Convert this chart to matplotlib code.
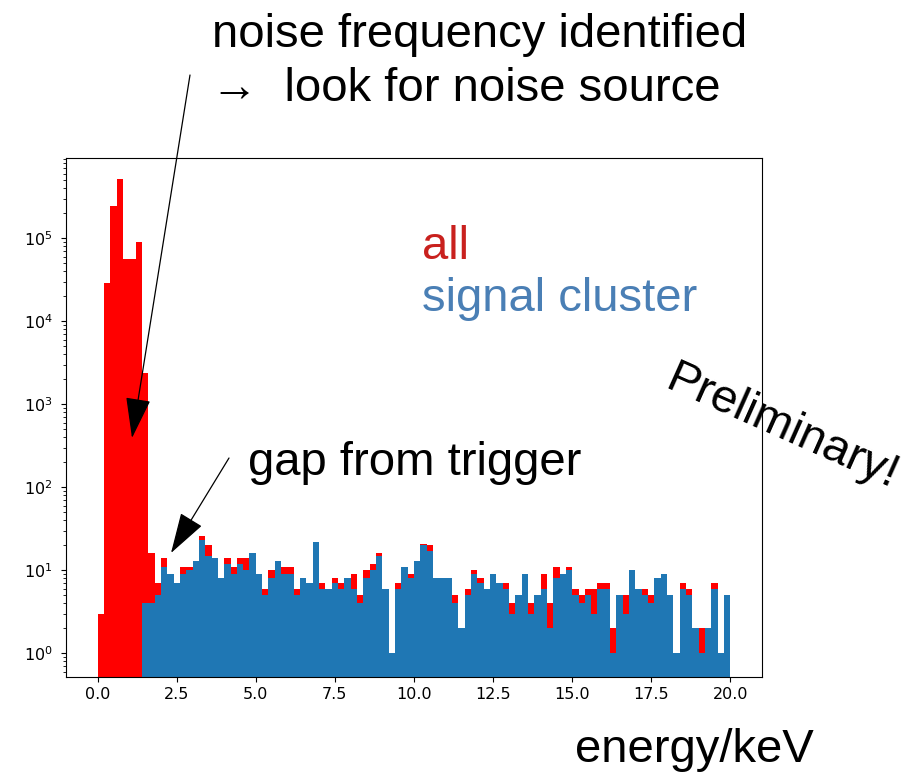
import numpy as np
import matplotlib
matplotlib.use('Agg')
import matplotlib.pyplot as plt

# counts per 0.2 keV bin (0 .. 20 keV)
all_counts = [3, 29000, 243000, 521000, 56000, 56000, 91000, 2400, 16, 7,
              14, 9, 7, 11, 11, 13, 26, 20, 14, 8,
              14, 11, 14, 14, 16, 9, 6, 10, 13, 11,
              11, 6, 8, 7, 22, 7, 6, 8, 7, 8,
              9, 5, 10, 12, 16, 6, 1, 7, 11, 9,
              13, 21, 20, 8, 8, 8, 5, 2, 6, 10,
              8, 6, 9, 7, 7, 4, 5, 9, 4, 5,
              9, 4, 11, 9, 11, 6, 5, 6, 6, 7,
              7, 2, 5, 5, 10, 6, 6, 5, 8, 9,
              5, 1, 7, 6, 2, 2, 2, 7, 1, 5]
signal_counts = [0, 0, 0, 0, 0, 0, 0, 4, 4, 5,
                 11, 9, 7, 9, 10, 13, 23, 15, 14, 8,
                 12, 9, 12, 10, 16, 9, 5, 8, 13, 9,
                 9, 5, 8, 7, 22, 6, 6, 7, 6, 8,
                 6, 4, 8, 10, 15, 6, 1, 6, 11, 8,
                 13, 20, 17, 8, 8, 8, 4, 2, 5, 9,
                 7, 6, 9, 7, 6, 3, 5, 9, 3, 5,
                 6, 2, 8, 9, 10, 5, 4, 5, 3, 6,
                 6, 1, 5, 3, 10, 6, 5, 4, 8, 9,
                 5, 1, 6, 5, 2, 1, 2, 6, 1, 5]
e_min, e_max, n_bins = 0.0, 20.0, 100

edges = np.linspace(e_min, e_max, n_bins + 1)
centers = 0.5 * (edges[:-1] + edges[1:])

fig = plt.figure(figsize=(9.11, 7.74), dpi=100)
ax = fig.add_axes([66/911, 1 - 677/774, 696/911, 519/774])
ax.hist(centers, bins=edges, weights=all_counts, color='red', log=True)
ax.hist(centers, bins=edges, weights=signal_counts, color='C0', log=True)
ax.set_ylim(0.52, 9.3e5)
ax.set_xlim(-1, 21)
ax.tick_params(labelsize=11.5)
ax.tick_params(axis='y', pad=6)

slide = dict(family=['Liberation Sans', 'DejaVu Sans'], fontsize=34)
fig.text(480, 774 - 47, 'noise frequency identified', transform=None,
         ha='center', va='baseline', **slide)
fig.text(211, 774 - 101, '\u2192  look for noise source', transform=None,
         ha='left', va='baseline', **slide)
fig.text(422, 774 - 259, 'all', transform=None, ha='left', va='baseline',
         color='#c9211e', **slide)
fig.text(422, 774 - 311, 'signal cluster', transform=None, ha='left',
         va='baseline', color='#4a7fb5', **slide)
fig.text(248, 774 - 475, 'gap from trigger', transform=None, ha='left',
         va='baseline', **slide)
fig.text(575, 774 - 762, 'energy/keV', transform=None, ha='left',
         va='baseline', **slide)
fig.text(782, 774 - 428, 'Preliminary!', transform=None, ha='center',
         va='center', rotation=-24, rotation_mode='anchor', **slide)

arrow = dict(arrowstyle='-|>,head_length=1.3,head_width=0.4',
             mutation_scale=20, color='black', lw=0.9,
             shrinkA=0, shrinkB=0)
ax.annotate('', xy=(132, 774 - 438), xytext=(190, 774 - 75),
            xycoords='figure pixels', textcoords='figure pixels',
            arrowprops=arrow, annotation_clip=False)
ax.annotate('', xy=(171, 774 - 553), xytext=(229, 774 - 458),
            xycoords='figure pixels', textcoords='figure pixels',
            arrowprops=arrow, annotation_clip=False)

fig.savefig('out.png', dpi=100)
